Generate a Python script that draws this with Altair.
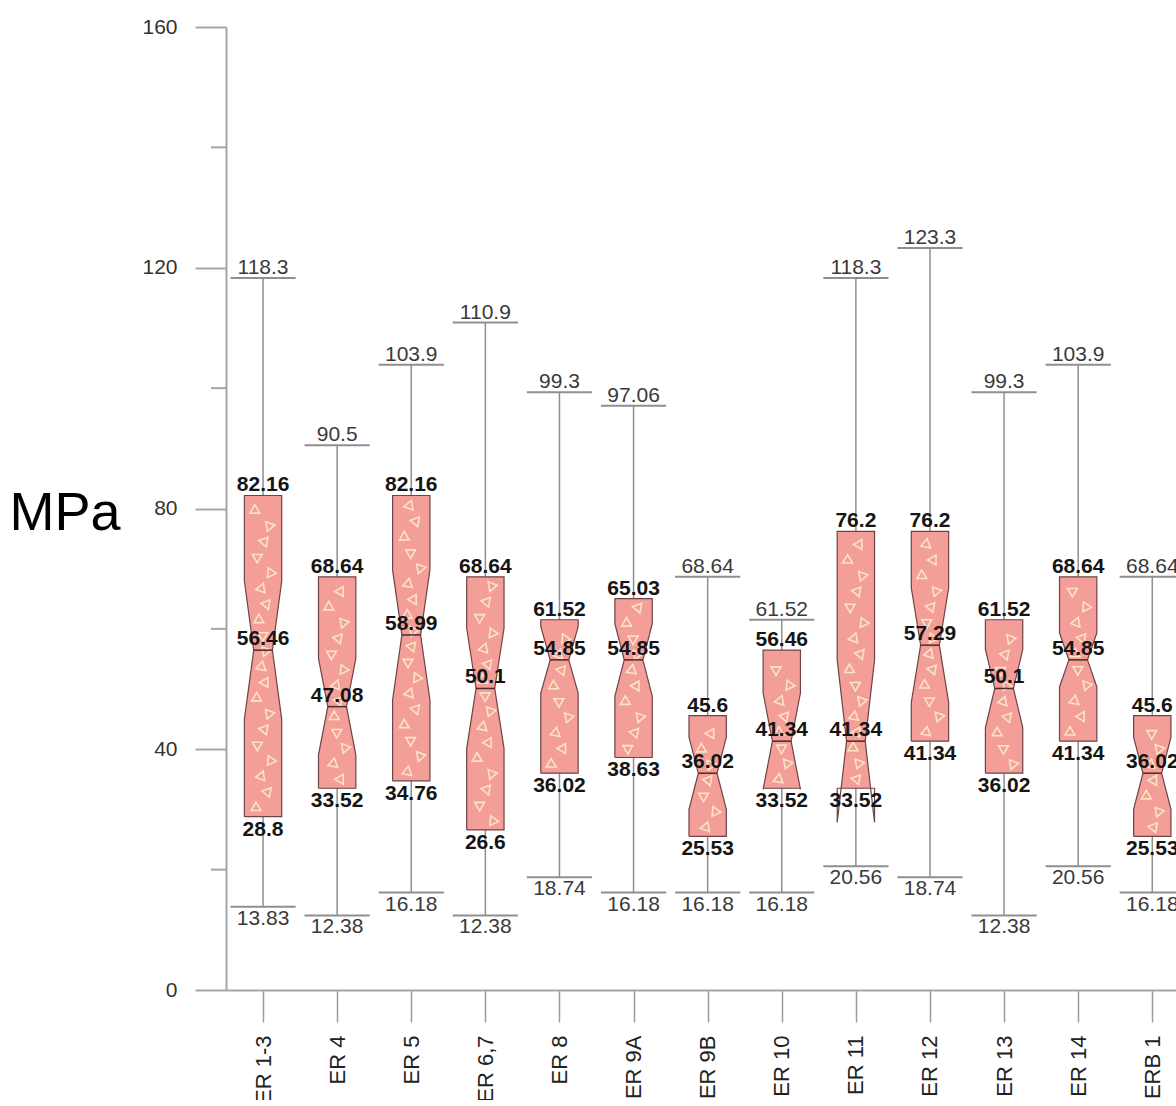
import altair as alt
import pandas as pd

# Summary statistics of compressive strength (MPa) per sample group
groups = ["ER 1-3", "ER 4", "ER 5", "ER 6,7", "ER 8", "ER 9A", "ER 9B",
          "ER 10", "ER 11", "ER 12", "ER 13", "ER 14", "ERB 1"]
whisker_low = [13.83, 12.38, 16.18, 12.38, 18.74, 16.18, 16.18,
               16.18, 20.56, 18.74, 12.38, 20.56, 16.18]
q1 = [28.8, 33.52, 34.76, 26.6, 36.02, 38.63, 25.53,
      33.52, 33.52, 41.34, 36.02, 41.34, 25.53]
median = [56.46, 47.08, 58.99, 50.1, 54.85, 54.85, 36.02,
          41.34, 41.34, 57.29, 50.1, 54.85, 36.02]
q3 = [82.16, 68.64, 82.16, 68.64, 61.52, 65.03, 45.6,
      56.46, 76.2, 76.2, 61.52, 68.64, 45.6]
whisker_high = [118.3, 90.5, 103.9, 110.9, 99.3, 97.06, 68.64,
                61.52, 118.3, 123.3, 99.3, 103.9, 68.64]
# half-height of the notch around each median (confidence interval)
notch_half = [11.5, 8, 10.8, 10, 5.5, 6, 6, 8, 13.5, 9.5, 6.5, 4.5, 6]

y_major = [0, 40, 80, 120, 160]
y_minor = [20, 60, 100, 140]

FONT = "Liberation Sans"
BOX_HW = 0.252      # half box width in x units
NOTCH_HW = 0.126    # half width at the median
STAPLE_HW = 0.44    # half staple width
FILL = "#F49E9A"
EDGE = "#6e4444"
GREY = "#8f8f8f"
N = len(groups)

# whiskers and staples
whisk = pd.DataFrame({"idx": range(N), "lo": whisker_low, "hi": whisker_high})
staples = pd.DataFrame(
    [{"xl": i - STAPLE_HW, "xr": i + STAPLE_HW, "v": v}
     for i in range(N) for v in (whisker_low[i], whisker_high[i])]
)


def half_width(i, y):
    h = notch_half[i]
    d = abs(y - median[i])
    if d <= h:
        return NOTCH_HW + (BOX_HW - NOTCH_HW) * d / h
    return BOX_HW


# filled body of each notched box (notch clipped to the box)
fill_rows = []
for i, g in enumerate(groups):
    h = notch_half[i]
    ys = [q1[i]]
    if median[i] - h > q1[i]:
        ys.append(median[i] - h)
    ys.append(median[i])
    if median[i] + h < q3[i]:
        ys.append(median[i] + h)
    ys.append(q3[i])
    for y in ys:
        w = half_width(i, y)
        fill_rows.append({"group": g, "y": y, "xl": i - w, "xr": i + w})
body = pd.DataFrame(fill_rows)

# outline traced as a closed polygon (left edge up, right edge down)
edge_rows = []
for i, g in enumerate(groups):
    h = notch_half[i]
    ys = [q1[i], median[i] - h, median[i], median[i] + h, q3[i]]
    ws = [BOX_HW, BOX_HW, NOTCH_HW, BOX_HW, BOX_HW]
    pts = [(i - w, y) for w, y in zip(ws, ys)]
    pts += [(i + w, y) for w, y in reversed(list(zip(ws, ys)))]
    pts.append(pts[0])
    for k, (x, y) in enumerate(pts):
        edge_rows.append({"group": g, "ord": k, "x": x, "y": y})
edges = pd.DataFrame(edge_rows)

# texture of small open triangles inside each box
offsets = [-0.55, 0.35, -0.15, 0.6, -0.45, 0.1, 0.5, -0.65, 0.25, -0.3, 0.7, -0.05]
angles = [0, 40, 200, 95, 150, 280, 320, 60, 180, 250, 20, 120]
tri_rows = []
k = 0
for i in range(N):
    y = q1[i] + 1.5
    while y < q3[i] - 1.0:
        hw = half_width(i, y) - 0.08
        if hw > 0.02:
            tri_rows.append({"x": i + offsets[k % len(offsets)] * hw, "y": y,
                             "ang": angles[(k * 5) % len(angles)]})
        k += 1
        y += 2.6
tris = pd.DataFrame(tri_rows)

medians = pd.DataFrame({"ml": [i - NOTCH_HW for i in range(N)],
                        "mr": [i + NOTCH_HW for i in range(N)],
                        "m": median})

labels = pd.DataFrame(
    [{"idx": i, "kind": kind, "v": v, "label": f"{v:g}"}
     for i in range(N)
     for kind, v in (("whi", whisker_high[i]), ("wlo", whisker_low[i]),
                     ("q3", q3[i]), ("med", median[i]), ("q1", q1[i]))]
)

label_expr = "[" + ",".join(f"'{g}'" for g in groups) + "][datum.value]"

x_scale = alt.Scale(domain=[-0.5, 12.32], nice=False, zero=False)
y_scale = alt.Scale(domain=[0, 160], nice=False, zero=False)

x_axis = alt.Axis(values=list(range(N)), labelExpr=label_expr,
                  labelAngle=-90, labelAlign="right", labelBaseline="middle",
                  labelPadding=13, labelFontSize=22, labelColor="#222222",
                  labelFont=FONT, labelFlush=False, labelOverlap=False,
                  tickSize=32, tickColor="#9a9a9a", tickWidth=1.5,
                  domainColor="#a6a6a6", domainWidth=2, grid=False, title=None)
y_axis = alt.Axis(values=y_major, tickSize=31, tickColor="#a6a6a6", tickWidth=2,
                  domainColor="#a6a6a6", domainWidth=2, grid=False,
                  labelFontSize=21, labelColor="#333333", labelFont=FONT,
                  labelPadding=18, title="MPa", titleAngle=0, titleFontSize=54,
                  titleFontWeight="normal", titleColor="#000000", titleFont=FONT,
                  titleAlign="left", titleBaseline="middle", titleX=-217, titleY=486)


def X(field, **kw):
    return alt.X(field, scale=x_scale, axis=x_axis, **kw)


def Y(field, **kw):
    return alt.Y(field, scale=y_scale, axis=y_axis, **kw)


whisker_layer = alt.Chart(whisk).mark_rule(color=GREY, strokeWidth=1.5).encode(
    x=X("idx:Q"), y=Y("lo:Q"), y2="hi:Q",
)

minor_ticks = alt.Chart(pd.DataFrame({"t": y_minor})).mark_rule(
    color="#a6a6a6", strokeWidth=2).encode(
    y=Y("t:Q"), x=alt.value(-15), x2=alt.value(0),
)

staple_layer = alt.Chart(staples).mark_rule(color=GREY, strokeWidth=2).encode(
    x=X("xl:Q"), x2="xr:Q", y=Y("v:Q"),
)

body_layer = alt.Chart(body).mark_area(
    orient="horizontal", fill=FILL, fillOpacity=1, strokeWidth=0
).encode(
    y=Y("y:Q"), x=X("xl:Q", stack=False), x2="xr:Q", detail="group:N",
)

tri_layer = alt.Chart(tris).mark_point(
    shape="triangle", filled=False, stroke="#FBE8C4", strokeWidth=1.6,
    size=95, opacity=0.95
).encode(
    x=X("x:Q"), y=Y("y:Q"), angle=alt.Angle("ang:Q", scale=None),
)

edge_layer = alt.Chart(edges).mark_line(color=EDGE, strokeWidth=1.2).encode(
    x=X("x:Q"), y=Y("y:Q"), order="ord:Q", detail="group:N",
)

median_layer = alt.Chart(medians).mark_rule(color="#4a2a2a", strokeWidth=1.5).encode(
    x=X("ml:Q"), x2="mr:Q", y=Y("m:Q"),
)


def text_layer(kind, baseline, dy, bold):
    return alt.Chart(labels).transform_filter(
        alt.datum.kind == kind
    ).mark_text(
        font=FONT, fontSize=21, fontWeight="bold" if bold else "normal",
        color="#151515" if bold else "#3a3a3a",
        baseline=baseline, dy=dy, align="center",
    ).encode(
        x=X("idx:Q"), y=Y("v:Q"), text="label:N",
    )


chart = alt.layer(
    whisker_layer, minor_ticks, staple_layer, body_layer, tri_layer,
    edge_layer, median_layer,
    text_layer("whi", "alphabetic", -4, False),
    text_layer("wlo", "top", 1, False),
    text_layer("q3", "alphabetic", -4, True),
    text_layer("med", "alphabetic", -5, True),
    text_layer("q1", "top", 2, True),
).properties(
    width=950, height=963,
    padding={"left": 226, "top": 27, "right": 0, "bottom": 110},
    autosize=alt.AutoSizeParams(type="none"),
    background="white",
).configure_view(strokeWidth=0)

chart.save("out.html", embed_options={"renderer": "svg", "actions": False})
